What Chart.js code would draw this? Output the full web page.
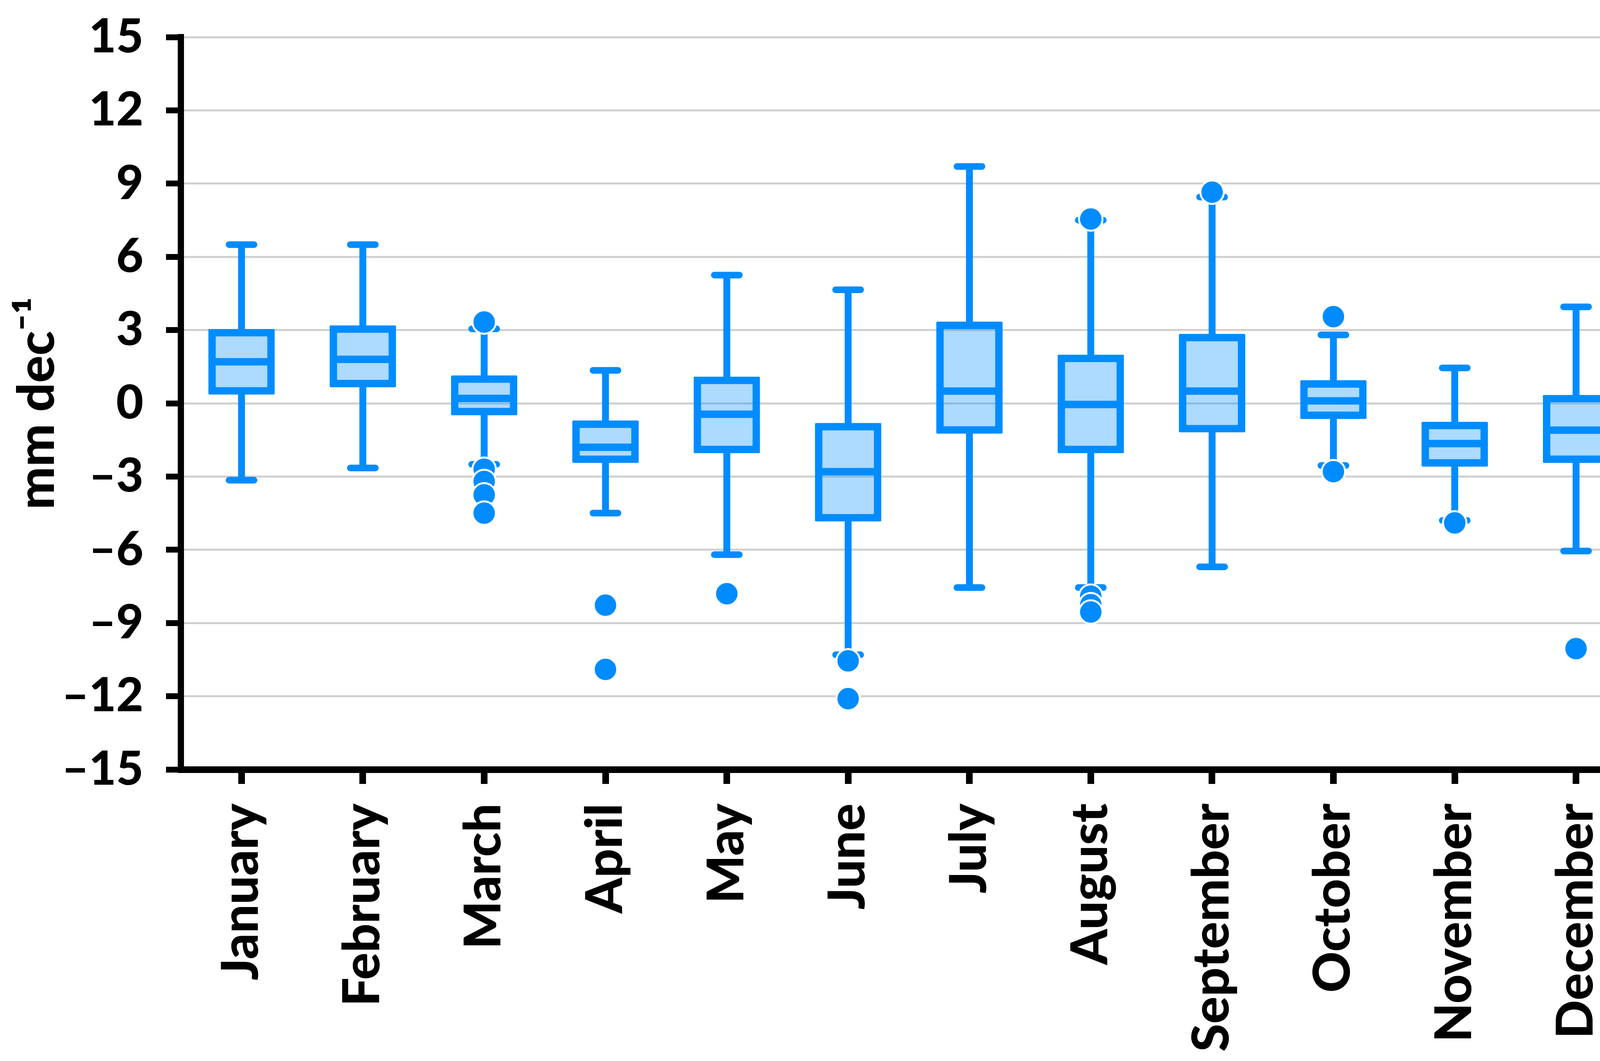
<!DOCTYPE html>
<html>
<head>
<meta charset="utf-8">
<script src="https://cdn.jsdelivr.net/npm/chart.js@4.4.1/dist/chart.umd.min.js"></script>
<style>
    html, body { margin: 0; padding: 0; background: #ffffff; overflow: hidden; }
    #wrap { width: 4233px; height: 2715px; }
    canvas { display: block; }
</style>
</head>
<body>
<div id="wrap"><canvas id="chart" width="4233" height="2715"></canvas></div>
<script>
const months = ['January', 'February', 'March', 'April', 'May', 'June',
    'July', 'August', 'September', 'October', 'November', 'December']

// box plot statistics per month (mm dec-1)
const whiskerLow = [-3.15, -2.65, -2.5, -4.5, -6.2, -10.3, -7.55, -7.55, -6.7, -2.55, -4.8, -6.05]
const quartile1 = [0.5, 0.8, -0.35, -2.3, -1.9, -4.7, -1.1, -1.9, -1.05, -0.5, -2.45, -2.3]
const medians = [1.7, 1.8, 0.2, -1.8, -0.45, -2.8, 0.5, -0.05, 0.5, 0.1, -1.65, -1.1]
const quartile3 = [2.9, 3.05, 1.0, -0.85, 0.95, -0.95, 3.2, 1.85, 2.7, 0.8, -0.9, 0.2]
const whiskerHigh = [6.5, 6.5, 3.05, 1.35, 5.25, 4.65, 9.7, 7.5, 8.45, 2.8, 1.45, 3.95]
const outliers = [
    [], [], [3.33, -2.7, -3.2, -3.75, -4.5], [-8.27, -10.9], [-7.8], [-10.55, -12.1],
    [], [7.55, -7.9, -8.25, -8.55], [8.65], [3.55, -2.8], [-4.9], [-10.05]
]
const yTicks = [-15, -12, -9, -6, -3, 0, 3, 6, 9, 12, 15]

const blue = '#008CFF'
const boxFill = 'rgba(0, 140, 255, 0.32)'
const tickFont = {family: 'Lato', weight: '900', size: 120}
const labelFont = {family: 'Lato', weight: '900', size: 130}

const outlierPoints = []
outliers.forEach((list, i) => {
    list.forEach(v => outlierPoints.push({x: months[i], y: v}))
})

// rounded ends for the whisker caps only
const roundCaps = {
    id: 'roundCaps',
    beforeDatasetDraw(chart, args) {
        const label = chart.data.datasets[args.index].label
        chart.ctx.lineCap = label.startsWith('caps') ? 'round' : 'butt'
    },
    afterDatasetDraw(chart) {
        chart.ctx.lineCap = 'butt'
    }
}

new Chart(document.getElementById('chart'), {
    type: 'bar',
    data: {
        labels: months,
        datasets: [{
            label: 'upper whisker',
            data: months.map((m, i) => [quartile3[i], whiskerHigh[i]]),
            backgroundColor: blue,
            barThickness: 17,
            grouped: false,
            order: 5
        }, {
            label: 'lower whisker',
            data: months.map((m, i) => [whiskerLow[i], quartile1[i]]),
            backgroundColor: blue,
            barThickness: 17,
            grouped: false,
            order: 5
        }, {
            type: 'line',
            label: 'caps high',
            data: whiskerHigh,
            showLine: false,
            pointStyle: 'line',
            pointRadius: 32,
            pointBorderWidth: 17,
            pointBorderColor: blue,
            order: 4
        }, {
            type: 'line',
            label: 'caps low',
            data: whiskerLow,
            showLine: false,
            pointStyle: 'line',
            pointRadius: 32,
            pointBorderWidth: 17,
            pointBorderColor: blue,
            order: 4
        }, {
            label: 'box',
            data: months.map((m, i) => [quartile1[i], quartile3[i]]),
            backgroundColor: boxFill,
            borderColor: blue,
            borderWidth: 1,
            inflateAmount: 9,
            borderSkipped: false,
            borderRadius: 3,
            barThickness: 152,
            grouped: false,
            order: 3
        }, {
            type: 'line',
            label: 'median',
            data: medians,
            showLine: false,
            pointStyle: 'line',
            pointRadius: 78,
            pointBorderWidth: 19,
            pointBorderColor: blue,
            order: 2
        }, {
            type: 'line',
            label: 'outliers',
            data: outlierPoints,
            showLine: false,
            pointStyle: 'circle',
            pointRadius: 30,
            pointBackgroundColor: blue,
            pointBorderColor: '#ffffff',
            pointBorderWidth: 5,
            order: 1
        }]
    },
    plugins: [roundCaps],
    options: {
        responsive: false,
        devicePixelRatio: 1,
        animation: false,
        events: [],
        layout: {
            autoPadding: false,
            padding: {top: 95, right: 43, bottom: 0, left: 0}
        },
        plugins: {
            legend: {display: false},
            tooltip: {enabled: false}
        },
        scales: {
            x: {
                offset: true,
                grid: {
                    offset: false,
                    drawOnChartArea: false,
                    drawTicks: true,
                    tickLength: 37,
                    tickWidth: 17,
                    tickColor: '#000000'
                },
                border: {color: '#000000', width: 17},
                ticks: {
                    color: '#000000',
                    font: labelFont,
                    minRotation: 90,
                    maxRotation: 90,
                    autoSkip: false,
                    padding: 50
                },
                afterFit: (scale) => {
                    scale.height = 2715 - 1969
                    scale.paddingLeft = 0
                    scale.paddingRight = 0
                }
            },
            y: {
                min: -15,
                max: 15,
                afterBuildTicks: (scale) => { scale.ticks = yTicks.map(v => ({value: v})) },
                grid: {
                    color: '#CFCFCF',
                    lineWidth: 5,
                    tickLength: 38,
                    tickWidth: 15,
                    tickColor: '#000000'
                },
                border: {color: '#000000', width: 16},
                ticks: {
                    color: '#000000',
                    font: tickFont,
                    padding: 58,
                    callback: (value) => String(value).replace('-', '\u2013')
                },
                title: {
                    display: true,
                    text: 'mm dec\u207B\u00B9',
                    color: '#000000',
                    font: labelFont,
                    padding: {top: 18, bottom: 0}
                },
                afterFit: (scale) => {
                    scale.width = 463
                    scale.paddingTop = 0
                    scale.paddingBottom = 0
                }
            }
        }
    }
})
</script>
</body>
</html>
